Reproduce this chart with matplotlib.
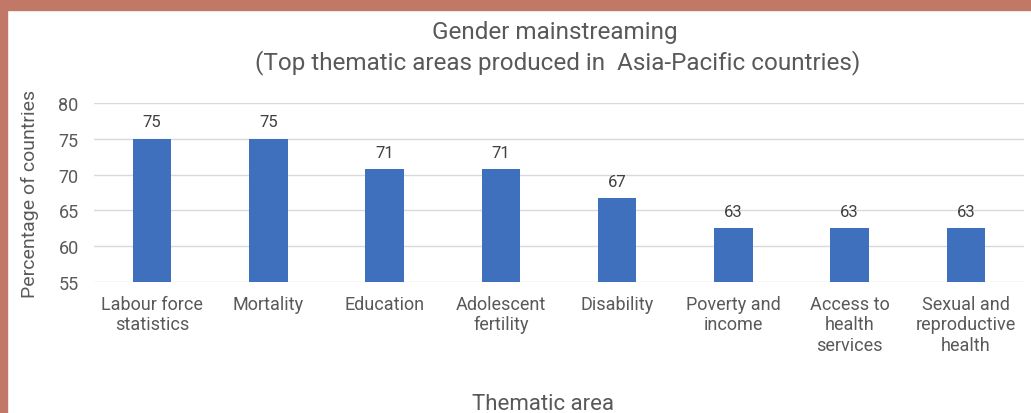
import matplotlib
matplotlib.use('Agg')
import matplotlib.pyplot as plt
from matplotlib.patches import Rectangle
import numpy as np

plt.rcParams['font.family'] = ['Roboto', 'DejaVu Sans']

# Data: share of 24 countries producing gender statistics in each area
categories = ['Labour force\nstatistics', 'Mortality', 'Education', 'Adolescent\nfertility',
              'Disability', 'Poverty and\nincome', 'Access to\nhealth\nservices',
              'Sexual and\nreproductive\nhealth']
values = [75.0, 75.0, 70.8, 70.8, 66.7, 62.5, 62.5, 62.5]
yticks = [55, 60, 65, 70, 75, 80]

text_grey = '#595959'
bar_blue = '#3f70bd'

fig = plt.figure(figsize=(10.31, 4.14), dpi=100)
W, H = 1031, 414

# salmon frame at top and left
fig.patches.append(Rectangle((0, 1 - 11 / H), 1, 11 / H, transform=fig.transFigure,
                             color='#c27866', zorder=0))
fig.patches.append(Rectangle((0, 0), 7 / W, 1, transform=fig.transFigure,
                             color='#c27866', zorder=0))

ax = fig.add_axes([94 / W, 1 - 283 / H, (1024 - 94) / W, (283 - 104) / H])

x = np.arange(len(categories))
bars = ax.bar(x, values, width=0.33, color=bar_blue, zorder=3)

for xi, v in zip(x, values):
    ax.text(xi, v + 1.3, str(int(v + 0.5)), ha='center', va='bottom', fontsize=12,
            color='#404040')

ax.set_ylim(55, 80)
ax.set_xlim(-0.5, len(categories) - 0.5)
ax.set_yticks(yticks)
ax.yaxis.grid(True, color='#d9d9d9', linewidth=1, zorder=0)
ax.tick_params(axis='y', length=0, pad=11, labelsize=13, labelcolor=text_grey)
ax.tick_params(axis='x', length=0, pad=9, labelsize=13, labelcolor=text_grey)
ax.set_xticks(x)
ax.set_xticklabels(categories, linespacing=1.2)
for s in ax.spines.values():
    s.set_visible(False)

ax.set_ylabel('Percentage of countries', fontsize=14, color=text_grey, labelpad=14)
fig.text(543 / W, 1 - 405 / H, 'Thematic area', ha='center', va='center',
         fontsize=16, color=text_grey)
fig.text(555 / W, 1 - 32 / H, 'Gender mainstreaming', ha='center', va='center',
         fontsize=17.5, color=text_grey)
fig.text(558 / W, 1 - 63 / H, '(Top thematic areas produced in  Asia-Pacific countries)',
         ha='center', va='center', fontsize=17.5, color=text_grey)

fig.savefig('out.png', dpi=100)
